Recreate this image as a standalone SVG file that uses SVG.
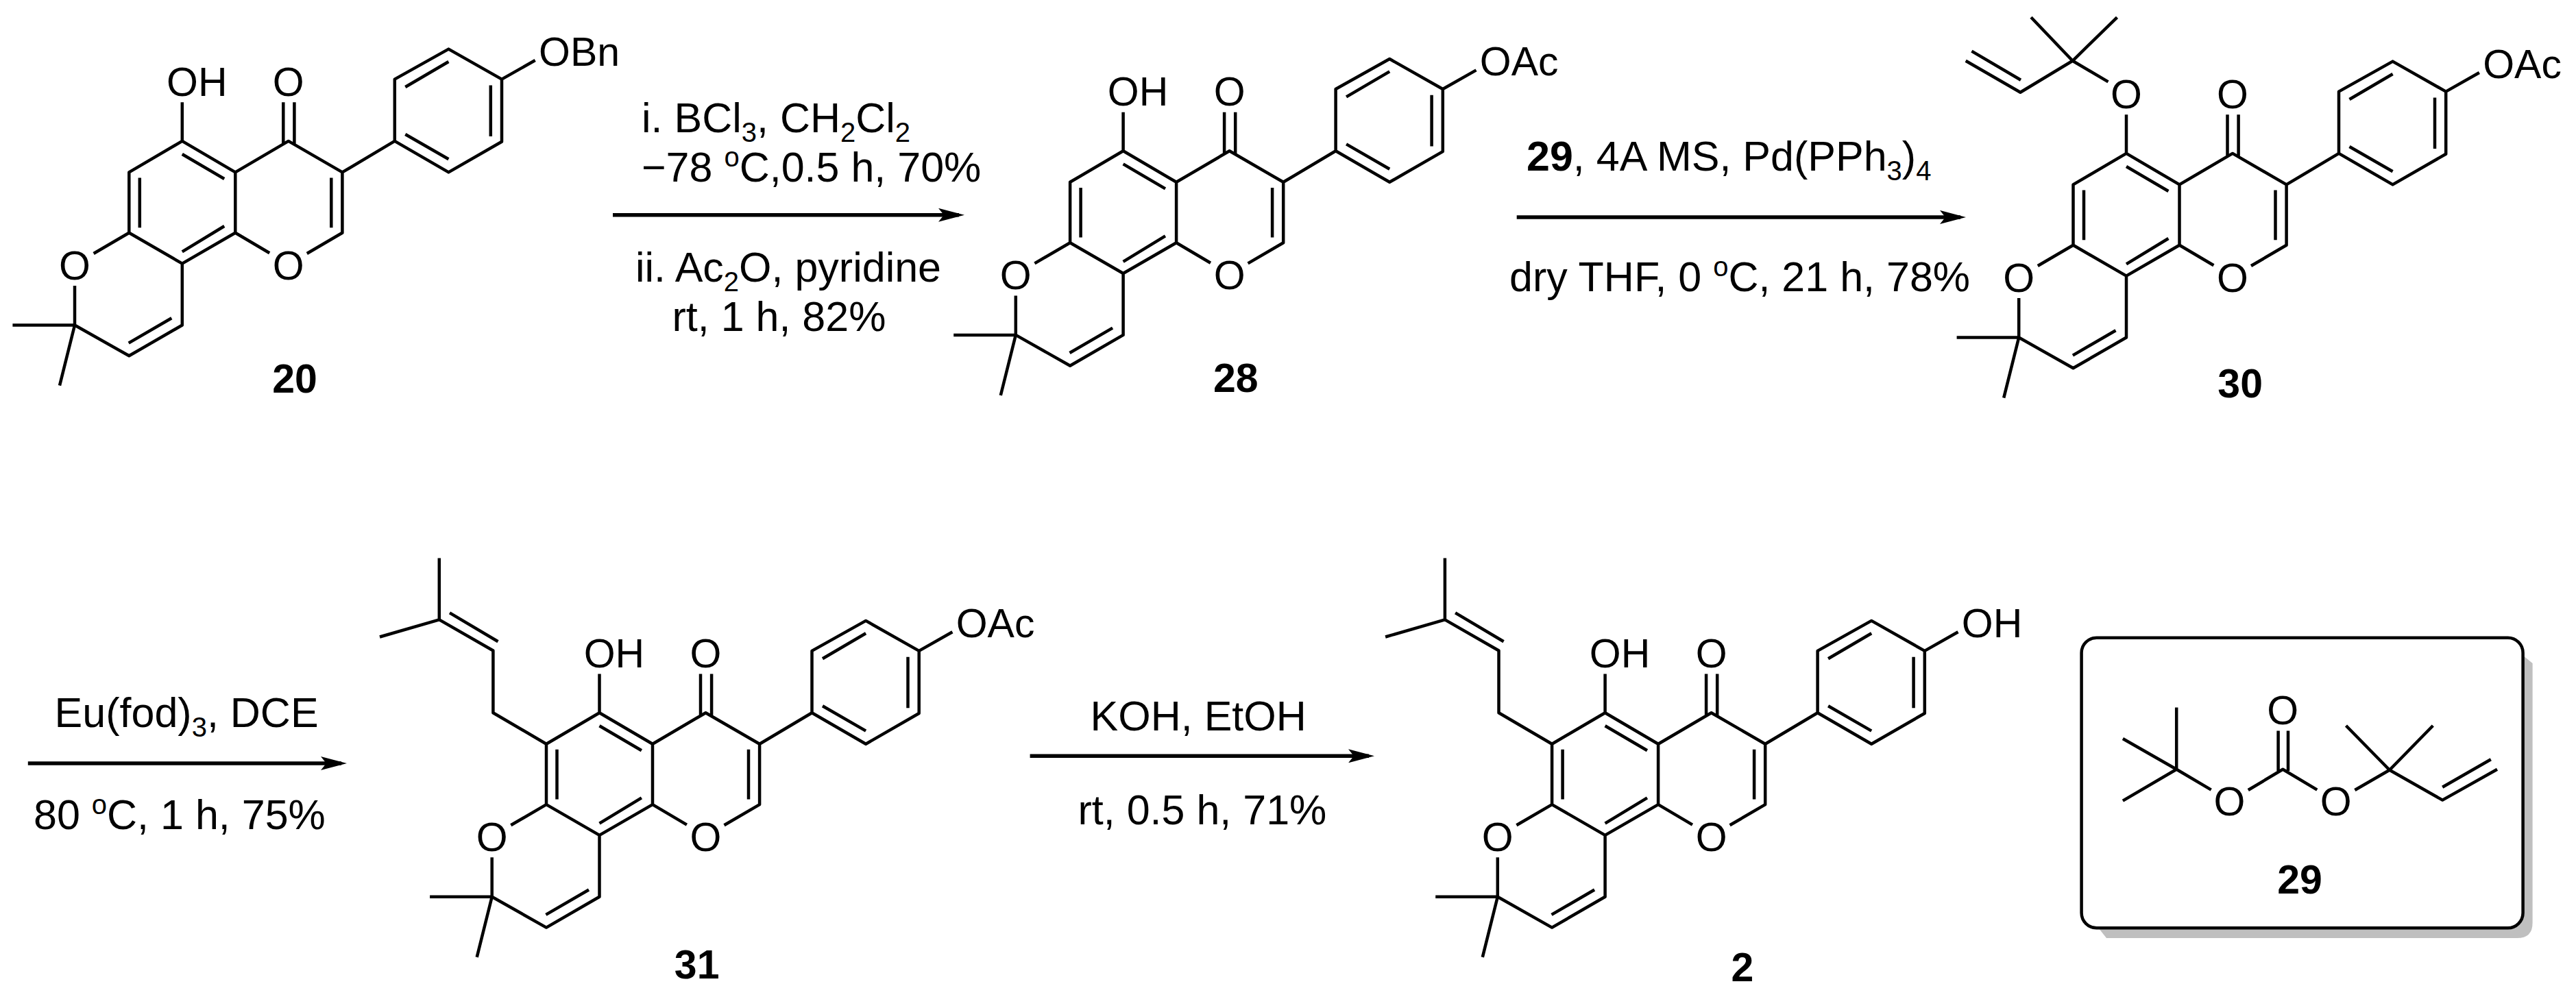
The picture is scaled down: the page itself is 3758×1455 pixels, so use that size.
<svg xmlns="http://www.w3.org/2000/svg" xmlns:xlink="http://www.w3.org/1999/xlink" width="3758" height="1455" viewBox="0 0 3758 1455">
<style>
text{font-family:"Liberation Sans",Arial,sans-serif;fill:#000}
.bond{fill:none;stroke:#000;stroke-width:4.5;stroke-linejoin:round}
.atom{font-size:59px}
.mid{text-anchor:middle}
.label{font-size:59px;font-weight:bold;text-anchor:middle}
.rgt{font-size:61px}
.sub{font-size:40px}
.sup{font-size:40px}
.arrow{fill:none;stroke:#000;stroke-width:5.5;marker-end:url(#head)}
</style>
<defs>
<marker id="head" markerUnits="userSpaceOnUse" markerWidth="38" markerHeight="20" refX="30" refY="10" orient="auto">
<path d="M38 10L0 0L8 10L0 20Z" fill="#000"/>
</marker>
<path id="core" class="bond" d="M265.8 149.3V205.9L188.3 251.4V339.8L265.8 384.6L343.3 339.8V251.4L265.8 205.9M343.3 251.4L420.8 205.9L499.4 251.4V339.8L447.8 370M343.3 339.8L393.2 369.3M413.3 149.3V210M429.4 149.3V210M499.4 251.4L575.8 205.9V115.6L654.4 71.6L732 115.6V206.7L654.4 251.4L575.8 205.9M732 115.6L780.7 88M188.3 339.8L136.6 370M109 417V474.5L188.3 519.3L265.8 474.5V384.6M109 474.5H18.4M109 474.5L87 562.6M265.8 225L327.2 261M203.8 259.5V332.2M265.8 367.4L327.2 330M483.3 259.5V332.2M187.7 500.6L250.3 464.2M591.3 127L654.4 90M715.8 124.4V199M591.3 196L654.4 232.3"/>
<path id="prenyl" class="bond" d="M188.3 251.4L110.7 205.9V115.2L32.1 70.1V-19.7M32.1 70.1L-54.7 95.2M47.3 60.1L117.8 101.9"/>
</defs>
<rect width="3758" height="1455" fill="#fff"/>

<g id="compound-20">
<use href="#core"/>
<text class="atom" x="243" y="139.7">OH</text>
<text class="atom mid" x="420.8" y="139.7">O</text>
<text class="atom mid" x="420.8" y="408">O</text>
<text class="atom mid" x="109" y="408">O</text>
<text class="atom" x="786" y="95.7">OBn</text>
<text class="label" x="430" y="573">20</text>
</g>

<g id="compound-28" transform="translate(1372.8,14.4)">
<use href="#core"/>
<text class="atom" x="243" y="139.7">OH</text>
<text class="atom mid" x="420.8" y="139.7">O</text>
<text class="atom mid" x="420.8" y="408">O</text>
<text class="atom mid" x="109" y="408">O</text>
<text class="atom" x="786" y="95.7">OAc</text>
<text class="label" x="430" y="558">28</text>
</g>

<g id="compound-30" transform="translate(2836.2,18)">
<use href="#core"/>
<path class="bond" d="M239.3 101.4L187.4 70.8L126.8 7.3M187.4 70.8L252.3 7.3M187.4 70.8L111.2 116.7L31.5 70.8M111.8 98.7L40.2 56.6"/>
<text class="atom mid" x="265.8" y="139.7">O</text>
<text class="atom mid" x="420.8" y="139.7">O</text>
<text class="atom mid" x="420.8" y="408">O</text>
<text class="atom mid" x="109" y="408">O</text>
<text class="atom" x="786" y="95.7">OAc</text>
<text class="label" x="432" y="562">30</text>
</g>

<g id="compound-31" transform="translate(608.7,834.3)">
<use href="#core"/>
<use href="#prenyl"/>
<text class="atom" x="243" y="139.7">OH</text>
<text class="atom mid" x="420.8" y="139.7">O</text>
<text class="atom mid" x="420.8" y="408">O</text>
<text class="atom mid" x="109" y="408">O</text>
<text class="atom" x="786" y="95.7">OAc</text>
<text class="label" x="408" y="594">31</text>
</g>

<g id="compound-2" transform="translate(2075.8,834.3)">
<use href="#core"/>
<use href="#prenyl"/>
<text class="atom" x="243" y="139.7">OH</text>
<text class="atom mid" x="420.8" y="139.7">O</text>
<text class="atom mid" x="420.8" y="408">O</text>
<text class="atom mid" x="109" y="408">O</text>
<text class="atom" x="786" y="95.7">OH</text>
<text class="label" x="466" y="598">2</text>
</g>

<g id="compound-29">
<path d="M3680 956L3694.6 968V1347Q3694.6 1369 3672 1369H3073L3058 1350Z" fill="#bfbfbf"/>
<rect x="3036.6" y="930.7" width="644" height="423.6" rx="22" ry="22" fill="#fff" stroke="#000" stroke-width="4.5"/>
<path class="bond" d="M3175.2 1032.6V1122.8L3096.9 1078M3175.2 1122.8L3096.9 1168.6M3175.2 1122.8L3225.7 1152.6M3279.8 1153L3330.3 1122.8L3380.3 1152.6M3323.6 1066.4V1125M3338 1066.4V1125M3435.4 1153L3486 1123.8L3422.5 1059M3486 1123.8L3549.3 1059M3486 1123.8L3563.2 1167.6L3643 1122.8M3563.2 1148.7L3633.8 1108.2"/>
<text class="atom mid" x="3252.5" y="1190">O</text>
<text class="atom mid" x="3407.6" y="1190">O</text>
<text class="atom mid" x="3330.3" y="1056.5">O</text>
<text class="label" x="3355" y="1303.5">29</text>
</g>

<g id="connectors">
<path class="arrow" d="M894 313.8H1399"/>
<path class="arrow" d="M2212.7 316.9H2860"/>
<path class="arrow" d="M40.8 1114H498"/>
<path class="arrow" d="M1502.6 1103.3H1997"/>
</g>

<g id="reagents">
<text class="rgt" x="936" y="193.3">i. BCl<tspan class="sub" dy="14">3</tspan><tspan dy="-14">, CH</tspan><tspan class="sub" dy="14">2</tspan><tspan dy="-14">Cl</tspan><tspan class="sub" dy="14">2</tspan></text>
<text class="rgt" x="936" y="265">−78 <tspan class="sup" dy="-22">o</tspan><tspan dy="22">C,0.5 h, 70%</tspan></text>
<text class="rgt" x="927" y="411.4">ii. Ac<tspan class="sub" dy="14">2</tspan><tspan dy="-14">O, pyridine</tspan></text>
<text class="rgt" x="980.5" y="483">rt, 1 h, 82%</text>
<text class="rgt" x="2227" y="248.8"><tspan font-weight="bold">29</tspan>, 4A MS, Pd(PPh<tspan class="sub" dy="14">3</tspan><tspan dy="-14">)</tspan><tspan class="sub" dy="14">4</tspan></text>
<text class="rgt" x="2202" y="424.8">dry THF, 0 <tspan class="sup" dy="-22">o</tspan><tspan dy="22">C, 21 h, 78%</tspan></text>
<text class="rgt" x="79.6" y="1061">Eu(fod)<tspan class="sub" dy="14">3</tspan><tspan dy="-14">, DCE</tspan></text>
<text class="rgt" x="49" y="1210">80 <tspan class="sup" dy="-22">o</tspan><tspan dy="22">C, 1 h, 75%</tspan></text>
<text class="rgt" x="1590.6" y="1066">KOH, EtOH</text>
<text class="rgt" x="1572.5" y="1203">rt, 0.5 h, 71%</text>
</g>
</svg>
